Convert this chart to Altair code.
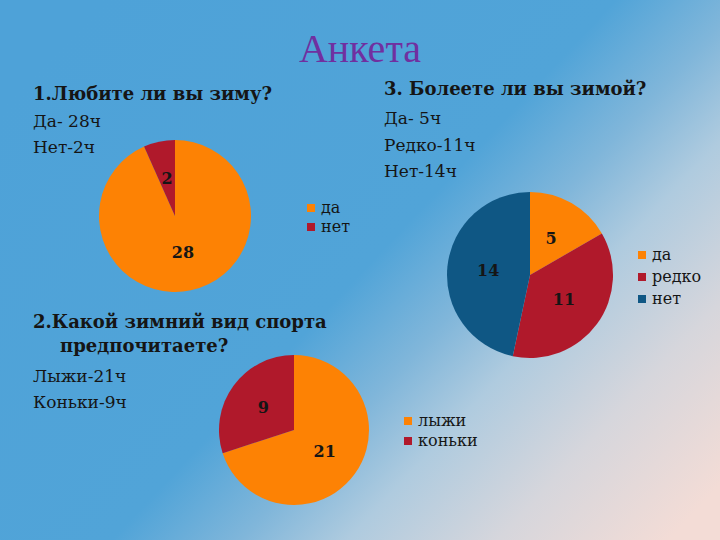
import altair as alt
import pandas as pd

# ---- data ----
title_text = "Анкета"

q1_question = ["1.Любите ли вы зиму?"]
q1_answers = ["Да- 28ч", "Нет-2ч"]
q1_cats = ["да", "нет"]
q1_vals = [28, 2]

q2_question = ["2.Какой зимний вид спорта", "предпочитаете?"]
q2_answers = ["Лыжи-21ч", "Коньки-9ч"]
q2_cats = ["лыжи", "коньки"]
q2_vals = [21, 9]

q3_question = ["3. Болеете ли вы зимой?"]
q3_answers = ["Да- 5ч", "Редко-11ч", "Нет-14ч"]
q3_cats = ["да", "редко", "нет"]
q3_vals = [5, 11, 14]

ORANGE = "#fd8204"
RED = "#b0192b"
BLUE = "#0f5784"
INK = "#151515"
SERIF = "DejaVu Serif"

W, H = 720, 540

# ---- background ----
bg = alt.Chart(pd.DataFrame({"a": [0]})).mark_rect(
    color=alt.LinearGradient(
        gradient="linear",
        x1=0, y1=0.2, x2=1, y2=0.9,
        stops=[
            alt.GradientStop(offset=0, color="#4ea2d8"),
            alt.GradientStop(offset=0.48, color="#51a4d8"),
            alt.GradientStop(offset=0.6, color="#80b6da"),
            alt.GradientStop(offset=0.7, color="#afcbdf"),
            alt.GradientStop(offset=0.84, color="#d6d6dc"),
            alt.GradientStop(offset=1, color="#f3dcd6"),
        ],
    )
).encode(x=alt.value(0), x2=alt.value(W), y=alt.value(0), y2=alt.value(H))


def pie(cats, vals, colors, cx, cy, r, lx, ly, row_pad, label_r):
    df = pd.DataFrame({"k": cats, "v": vals, "i": list(range(len(cats)))})
    base = alt.Chart(df).encode(
        theta=alt.Theta("v:Q", stack=True),
        order=alt.Order("i:Q"),
        x=alt.value(cx),
        y=alt.value(cy),
    )
    arc = base.mark_arc(outerRadius=r, stroke=None).encode(
        color=alt.Color(
            "k:N",
            scale=alt.Scale(domain=cats, range=colors),
            sort=cats,
            legend=alt.Legend(
                orient="none",
                legendX=lx,
                legendY=ly,
                title=None,
                symbolType="square",
                symbolSize=64,
                symbolStrokeWidth=0,
                labelFont=SERIF,
                labelFontSize=16,
                labelColor=INK,
                labelOffset=2,
                rowPadding=row_pad,
                padding=0,
            ),
        )
    )
    txt = base.mark_text(
        radius=label_r, font=SERIF, fontWeight="bold", fontSize=16, color=INK
    ).encode(text="v:Q")
    return alt.layer(arc, txt)


p1 = pie(q1_cats, q1_vals, [ORANGE, RED], 175, 216, 76, 303, 200, 3, 38)
p2 = pie(q2_cats, q2_vals, [ORANGE, RED], 294, 430, 75, 400, 413, 4, 38)
p3 = pie(q3_cats, q3_vals, [ORANGE, RED, BLUE], 530, 275, 83, 634, 247, 6, 42)


def text_block(lines, x, y, bold, size, line_h):
    return alt.Chart(pd.DataFrame({"t": ["\n".join(lines)]})).mark_text(
        align="left",
        baseline="alphabetic",
        lineBreak="\n",
        lineHeight=line_h,
        font=SERIF,
        fontSize=size,
        fontWeight="bold" if bold else "normal",
        color=INK,
    ).encode(text="t:N", x=alt.value(x), y=alt.value(y))


title = alt.Chart(pd.DataFrame({"t": [title_text]})).mark_text(
    align="center", baseline="alphabetic", font="Liberation Serif",
    fontSize=40, color="#7030a0",
).encode(text="t:N", x=alt.value(360), y=alt.value(62))

texts = [
    title,
    text_block(q1_question, 33, 100, True, 18, 26),
    text_block(q1_answers, 33, 127, False, 17, 26),
    text_block(q3_question, 384, 95, True, 18, 26),
    text_block(q3_answers, 384, 124, False, 17, 26.5),
    text_block(q2_question[:1], 33, 328, True, 18, 24),
    text_block(q2_question[1:], 60, 352, True, 18, 24),
    text_block(q2_answers, 33, 382, False, 17, 26),
]

chart = alt.layer(bg, p1, p2, p3, *texts).resolve_scale(
    theta="independent", color="independent"
).properties(
    width=W, height=H, padding=0, autosize="none", background="#4fa3d8"
).configure_view(stroke=None)

chart.save("out.html", embed_options={"renderer": "svg", "actions": False})
